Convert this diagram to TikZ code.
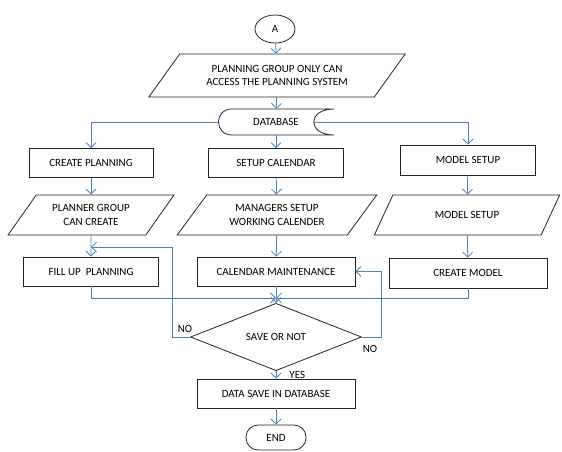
\documentclass[tikz,border=0pt]{standalone}
\usepackage{fontspec}
\setmainfont{Carlito}
\usepackage{xcolor}
\definecolor{fcblue}{RGB}{79,129,189}
\definecolor{fcline}{RGB}{35,35,35}
\usetikzlibrary{arrows.meta,positioning,shapes.geometric,calc}
\newcommand{\fcfont}{\fontsize{11}{13.5}\selectfont}
\tikzset{
  procbox/.style={draw=fcline, line width=0.8pt, minimum height=29pt, font=\fcfont, align=center, inner sep=1pt},
  iobox/.style={draw=fcline, line width=0.8pt, trapezium, trapezium left angle=48, trapezium right angle=132, trapezium stretches=true, minimum height=40pt, font=\fcfont, align=center, inner sep=1pt},
  flow/.style={-{Straight Barb[length=5pt,width=10pt]}, line width=0.8pt, fcblue},
  lbl/.style={font=\fcfont, text=black, inner sep=1pt}
}

\begin{document}
\begin{tikzpicture}[x=1pt, y=-1pt]
  \useasboundingbox (0,0) rectangle (562,452);
  % Start and access
  \node[ellipse, draw=fcline, line width=0.8pt, minimum width=40pt, minimum height=28pt, inner sep=0pt, font=\fcfont] (start) at (275,29) {A};
  \node[iobox, trapezium left angle=45, trapezium right angle=135, minimum width=257pt, minimum height=43pt] (access) at (277,75.5) {PLANNING GROUP ONLY CAN\\ACCESS THE PLANNING SYSTEM};
  % Database
  \node[font=\fcfont, minimum width=116pt, minimum height=26pt, inner sep=0pt] (db) at (276,122) {DATABASE};
  \draw[draw=fcline, line width=0.8pt] (334,109) -- (232,109) .. controls (214,109) and (214,135) .. (232,135) -- (334,135) .. controls (307,135) and (307,109) .. (334,109);
  \coordinate (dbin) at (314,122);
  % Three branches
  \node[procbox, minimum width=124pt] (cplan) at (91,163) {CREATE PLANNING};
  \node[procbox, minimum width=135pt] (scal) at (276,163) {SETUP CALENDAR};
  \node[procbox, minimum width=135pt, minimum height=30pt] (msetup) at (468,160) {MODEL SETUP};
  \node[iobox, minimum width=166pt] (pgroup) at (91,215) {PLANNER GROUP\\CAN CREATE};
  \node[iobox, minimum width=200pt] (mgr) at (277,215) {MANAGERS SETUP\\WORKING CALENDER};
  \node[iobox, minimum width=186pt] (minput) at (467,215) {MODEL SETUP};
  \node[procbox, minimum width=135pt] (fill) at (91,271.5) {FILL UP\ \ PLANNING};
  \node[procbox, minimum width=158pt] (cmaint) at (276,271.5) {CALENDAR MAINTENANCE};
  \node[procbox, minimum width=158pt, minimum height=30pt] (cmodel) at (468,273) {CREATE MODEL};
  \coordinate (merge) at (276,298);
  \coordinate (noleft) at (91,247);
  % Decision and end
  \node[diamond, draw=fcline, line width=0.8pt, minimum width=171pt, minimum height=50pt, inner sep=0pt, font=\fcfont] (save) at (276,337) {SAVE OR NOT};
  \node[procbox, minimum width=158pt] (dsave) at (276,393.5) {DATA SAVE IN DATABASE};
  \node[draw=fcline, line width=0.8pt, rounded corners=12pt, minimum width=60pt, minimum height=25pt, font=\fcfont] (fin) at (276,437.5) {END};
  \node[lbl] (nol) at (185,329) {NO};
  \node[lbl] (nor) at (370,349) {NO};
  % Arrows
  \draw[flow] (start) -- (access);
  \draw[flow] (access) -- (db);
  \draw[flow] (db.west) -| (cplan);
  \draw[flow] (db) -- (scal);
  \draw[flow] (dbin) -| (msetup);
  \draw[flow] (cplan) -- (pgroup);
  \draw[flow] (scal) -- (mgr);
  \draw[flow] (msetup) -- (minput);
  \draw[flow] (pgroup) -- (fill);
  \draw[flow] (mgr) -- (cmaint);
  \draw[flow] (minput) -- (cmodel);
  \draw[flow] (fill) |- (merge);
  \draw[flow] (cmodel) |- (merge);
  \draw[flow] (cmaint) -- (save);
  \draw[flow] (save.west) -- ++(-18,0) |- (noleft);
  \draw[flow] (save.east) -- ++(19,0) |- (cmaint.east);
  \draw[flow] (save) -- node[lbl, right=12pt] {YES} (dsave);
  \draw[flow] (dsave) -- (fin);
\end{tikzpicture}
\end{document}
